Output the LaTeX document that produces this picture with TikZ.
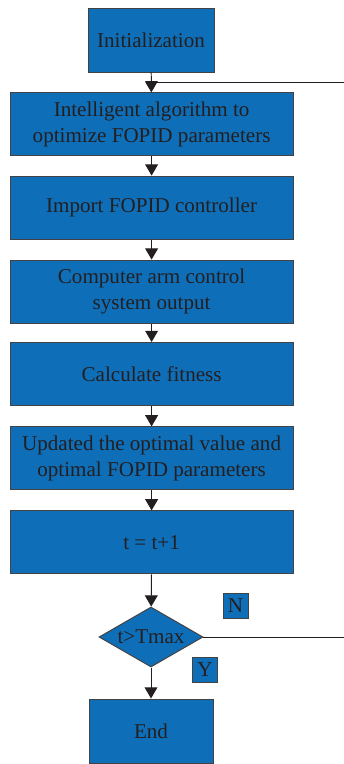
\documentclass[tikz,border=0pt]{standalone}
\usepackage{fontspec}
\setmainfont{Liberation Serif}
\usetikzlibrary{shapes.geometric,arrows.meta}
\definecolor{boxblue}{HTML}{0F6EB8}
\definecolor{ink}{HTML}{231F20}

\begin{document}
\begin{tikzpicture}[>={Triangle[length=0.28cm,width=0.32cm]}, line width=0.7pt]
        \useasboundingbox (0,0) rectangle (8.6,-19.1);

        \begin{scope}[every node/.style={draw=ink!85, fill=boxblue, text=ink, align=center,
            inner sep=0pt, font=\fontsize{15}{18}\selectfont}]
          \node[minimum width=3.15cm, minimum height=1.6cm]   (init) at (3.775,-1.0)   {Initialization};
          \node[minimum width=7.075cm, minimum height=1.575cm] (alg) at (3.79,-3.11)   {Intelligent algorithm to\\optimize FOPID parameters};
          \node[minimum width=7.075cm, minimum height=1.575cm] (imp) at (3.79,-5.19)   {Import FOPID controller};
          \node[minimum width=7.075cm, minimum height=1.575cm] (arm) at (3.79,-7.29)   {Computer arm control\\system output};
          \node[minimum width=7.075cm, minimum height=1.575cm] (fit) at (3.79,-9.35)   {Calculate fitness};
          \node[minimum width=7.075cm, minimum height=1.575cm] (upd) at (3.79,-11.46)  {Updated the optimal value and\\optimal FOPID parameters};
          \node[minimum width=7.075cm, minimum height=1.575cm] (inc) at (3.79,-13.56)  {t = t+1};
          \node[diamond, aspect=1.73, minimum width=2.6cm, minimum height=1.5cm] (dec) at (3.775,-15.925) {t>Tmax};
          \node[minimum width=3.1cm, minimum height=1.6cm]    (end) at (3.775,-18.275) {End};
          \node[minimum size=0.625cm] (no)  at (5.89,-15.14)  {N};
          \node[minimum size=0.625cm] (yes) at (5.125,-16.74) {Y};
        \end{scope}

        \begin{scope}[every path/.style={draw=ink}]
          \coordinate (join) at (init.south |- 0,-2.05);
          \path[->] (init) -- (alg);
          \path[->] (alg)  -- (imp);
          \path[->] (imp)  -- (arm);
          \path[->] (arm)  -- (fit);
          \path[->] (fit)  -- (upd);
          \path[->] (upd)  -- (inc);
          \path[->] (inc)  -- (dec);
          \path[->] (dec)  -- (end);
          \path (dec.east) -- (8.75,-15.925) |- (join);
        \end{scope}

      \end{tikzpicture}
\end{document}
